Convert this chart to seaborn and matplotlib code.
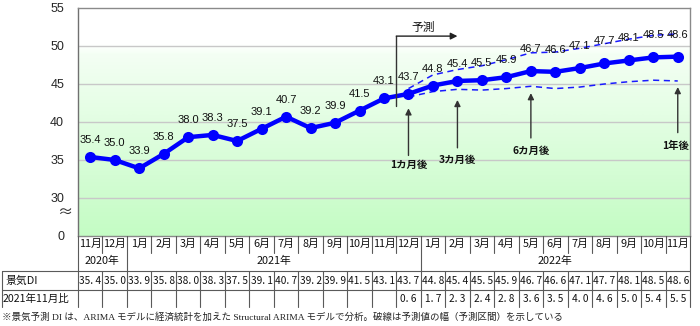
import numpy as np
import pandas as pd
import matplotlib
matplotlib.use("Agg")
import matplotlib.pyplot as plt
import matplotlib.transforms as mtransforms
from matplotlib.lines import Line2D
from matplotlib.colors import LinearSegmentedColormap
import seaborn as sns

# ---------------- data ----------------
months = ["11月", "12月", "1月", "2月", "3月", "4月", "5月", "6月", "7月", "8月", "9月",
          "10月", "11月", "12月", "1月", "2月", "3月", "4月", "5月", "6月", "7月", "8月",
          "9月", "10月", "11月"]
year_labels = ["2020年", "2021年", "2022年"]
year_spans = [(0, 1), (2, 13), (14, 24)]
di = [35.4, 35.0, 33.9, 35.8, 38.0, 38.3, 37.5, 39.1, 40.7, 39.2, 39.9, 41.5, 43.1,
      43.7, 44.8, 45.4, 45.5, 45.9, 46.7, 46.6, 47.1, 47.7, 48.1, 48.5, 48.6]
ratio = [None] * 13 + [0.6, 1.7, 2.3, 2.4, 2.8, 3.6, 3.5, 4.0, 4.6, 5.0, 5.4, 5.5]
fc_start = 13
upper = [44.4, 46.2, 46.9, 47.4, 48.2, 49.1, 49.2, 49.7, 50.3, 50.9, 51.4, 51.6]
lower = [43.3, 44.0, 44.3, 44.2, 44.4, 44.7, 44.4, 44.6, 45.0, 45.3, 45.5, 45.4]
ytick_vals = [25, 30, 35, 40, 45, 50, 55]
ytick_labels = ["0", "30", "35", "40", "45", "50", "55"]
row_labels = ["景気DI", "2021年11月比"]
footnote = "※景気予測 DI は、ARIMA モデルに経済統計を加えた Structural ARIMA モデルで分析。破線は予測値の幅（予測区間）を示している"
arrow_notes = [("1カ月後", 13), ("3カ月後", 15), ("6カ月後", 18), ("1年後", 24)]

# ---------------- figure ----------------
sns.set_theme(style="white")
plt.rcParams["font.family"] = ["Liberation Sans", "Noto Sans CJK JP", "DejaVu Sans"]
JP = ["Noto Sans CJK JP", "DejaVu Sans"]

W, H = 700, 326
fig = plt.figure(figsize=(W / 100, H / 100), dpi=100)
fig.patch.set_facecolor("white")
def fx(px): return px / W
def fy(py): return 1 - py / H

ax = fig.add_axes([fx(78), fy(236), fx(690) - fx(78), fy(8) - fy(236)])
ax.set_xlim(-0.5, 24.5)
ax.set_ylim(25, 55)

# background gradient
cmap = LinearSegmentedColormap.from_list("g", [(0.0, "#c4fcc4"), (0.8, "#f4fff4"), (0.84, "#ffffff"), (1.0, "#ffffff")])
grad = np.linspace(0, 1, 300).reshape(-1, 1)
ax.imshow(grad, extent=(-0.5, 24.5, 25, 55), origin="lower", aspect="auto", cmap=cmap, zorder=0)

for g in [30, 35, 40, 45, 50]:
    ax.axhline(g, color="#c8c8c8", lw=1.0, zorder=1)

df = pd.DataFrame({"i": np.arange(len(di)), "di": di})
fx_idx = np.arange(fc_start, fc_start + len(upper))
band = pd.DataFrame({"i": fx_idx, "upper": upper, "lower": lower})

sns.lineplot(data=band, x="i", y="upper", ax=ax, color="#1a1aff", lw=1.1, linestyle=(0, (4, 3)), zorder=2)
sns.lineplot(data=band, x="i", y="lower", ax=ax, color="#1a1aff", lw=1.1, linestyle=(0, (4, 3)), zorder=2)
sns.lineplot(data=df, x="i", y="di", ax=ax, color="#0000ff", lw=3.2, marker="o",
             markersize=8, markeredgewidth=0, zorder=3)

for i, v in enumerate(di):
    off = 17 if i < 18 else 22
    ax.annotate(f"{v:.1f}", (i, v), xytext=(0, off), textcoords="offset pixels",
                ha="center", va="center", fontsize=8, color="#111111", zorder=4)

ax.set_xticks([])
ax.set_yticks(ytick_vals)
ax.set_yticklabels(ytick_labels, fontsize=9)
ax.tick_params(axis="y", length=0, pad=10)
ax.set_xlabel("")
ax.set_ylabel("")
for s in ax.spines.values():
    s.set_color("#8a8a8a")
    s.set_linewidth(1.0)
ax.spines["left"].set_color("#707070")

# axis break mark
fig.text(fx(65), fy(212), "≈", fontsize=11, ha="center", va="center", family=JP, color="#333333")

# forecast bracket
ax.plot([12.5, 12.5], [42.1, 51.3], color="#333333", lw=1.0, zorder=4)
ax.annotate("", xy=(15.0, 51.3), xytext=(12.5, 51.3),
            arrowprops=dict(arrowstyle="-|>", color="#222222", lw=1.0, mutation_scale=10, shrinkA=0, shrinkB=0), zorder=4)
ax.text(13.6, 52.5, "予測", fontsize=8.5, ha="center", va="center", family=JP, color="#111111")

# horizon arrows
tips = {13: (41.8, 35.6, 34.3), 15: (42.9, 36.6, 35.0), 18: (43.8, 37.9, 36.2), 24: (44.6, 38.6, 36.8)}
for lab, idx in arrow_notes:
    tip, tail, ty = tips[idx]
    ax.annotate("", xy=(idx, tip), xytext=(idx, tail),
                arrowprops=dict(arrowstyle="-|>", color="#333333", lw=1.0, mutation_scale=9, shrinkA=0, shrinkB=0), zorder=4)
    ax.text(idx - (0.1 if idx == 24 else 0), ty, lab, fontsize=7.5, fontweight="bold", ha="center", va="center",
            family=JP, color="#111111", zorder=4)

# ---------------- table ----------------
trans = mtransforms.blended_transform_factory(ax.transData, fig.transFigure)
lc = "#5a5a5a"
def vline(xd, py0, py1):
    fig.add_artist(Line2D([xd, xd], [fy(py0), fy(py1)], transform=trans, color=lc, lw=0.8))
def hline(py, px0=2, px1=690):
    fig.add_artist(Line2D([fx(px0), fx(px1)], [fy(py), fy(py)], transform=fig.transFigure, color=lc, lw=0.8))

year_bounds = [s[0] for s in year_spans] + [len(di)]
for k in range(len(di) + 1):
    xd = k - 0.5
    if k in year_bounds:
        vline(xd, 236, 307)
    else:
        vline(xd, 236, 253)
        vline(xd, 271, 307)
hline(271)
hline(290)
fig.add_artist(Line2D([fx(2), fx(2)], [fy(271), fy(307)], transform=fig.transFigure, color=lc, lw=0.8))

for i, m in enumerate(months):
    fig.text(i, fy(244), m, transform=trans, ha="center", va="center", fontsize=7.8, family=JP, color="#111111")
for lab, (a, b) in zip(year_labels, year_spans):
    fig.text((a + b) / 2, fy(261), lab, transform=trans, ha="center", va="center", fontsize=7.8, family=JP, color="#111111")
for i, v in enumerate(di):
    s = f"{v:.1f}".replace(".", ". ")
    fig.text(i, fy(281), s, transform=trans, ha="center", va="center", fontsize=7.3, family=JP, color="#111111")
for i, v in enumerate(ratio):
    if v is None:
        continue
    s = f"{v:.1f}".replace(".", ". ")
    fig.text(i, fy(299), s, transform=trans, ha="center", va="center", fontsize=7.3, family=JP, color="#111111")
fig.text(fx(5), fy(281), row_labels[0], ha="left", va="center", fontsize=7.8, family=JP, color="#111111")
fig.text(fx(3), fy(299), row_labels[1], ha="left", va="center", fontsize=7.6, family=JP, color="#111111")

fig.text(fx(2), fy(317), footnote, ha="left", va="center", fontsize=6.8,
         family=["Liberation Serif", "Noto Sans CJK JP"], color="#222222")

fig.savefig("out.png", dpi=100)
